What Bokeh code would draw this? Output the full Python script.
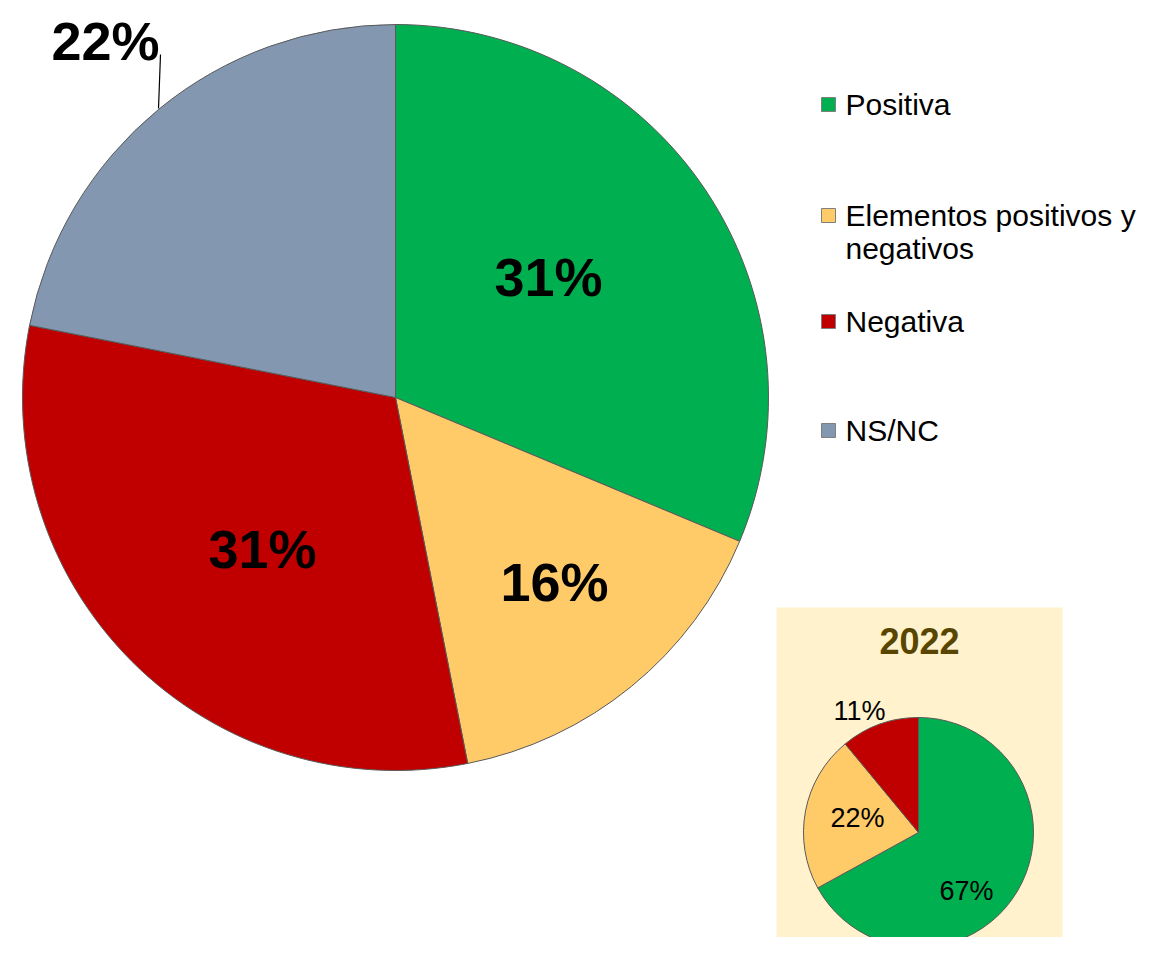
import numpy as np
from bokeh.plotting import figure
from bokeh.models import Range1d, ColumnDataSource
from bokeh.core.properties import value
from bokeh.embed import file_html
from bokeh.resources import INLINE

# ---- data ----
categories = ["Positiva", "Elementos positivos y negativos", "Negativa", "NS/NC"]
legend_lines = [["Positiva"], ["Elementos positivos y", "negativos"], ["Negativa"], ["NS/NC"]]
main_values = [31.3, 15.6, 31.2, 21.9]
main_labels = ["31%", "16%", "31%", "22%"]
colors = ["#00B050", "#FFCB69", "#C00000", "#8497B0"]

inset_title = "2022"
inset_categories = ["Positiva", "Elementos positivos y negativos", "Negativa"]
inset_values = [67.0, 22.0, 11.0]
inset_labels = ["67%", "22%", "11%"]
inset_colors = ["#00B050", "#FFCB69", "#C00000"]

H = 953  # reference height, used to flip y
FONT = "Liberation Sans"


def Y(y):
    return H - y


W_FIG, H_FIG = 1142, 937
p = figure(width=W_FIG, height=H_FIG, output_backend="svg", toolbar_location=None,
           x_range=Range1d(0, W_FIG), y_range=Range1d(H - H_FIG, H), min_border=0)
p.axis.visible = False
p.grid.visible = False
p.outline_line_color = None
p.background_fill_color = "white"


def wedge_source(vals, cols):
    v = np.array(vals, dtype=float)
    frac = v / v.sum()
    cum = np.concatenate([[0], np.cumsum(frac)])
    start = np.pi / 2 - 2 * np.pi * cum[:-1]
    end = np.pi / 2 - 2 * np.pi * cum[1:]
    return ColumnDataSource(dict(start=start, end=end, color=cols))


# ---- main pie ----
src = wedge_source(main_values, colors)
p.wedge(x=395, y=Y(397), radius=373, start_angle="start", end_angle="end",
        direction="clock", fill_color="color", line_color="#595959", line_width=1,
        source=src)

# labels of main pie
main_label_pos = [(548, 276), (554, 581), (262, 548), (105, 40)]
p.text(x=[q[0] for q in main_label_pos], y=[Y(q[1]) for q in main_label_pos],
       text=main_labels, text_font=value(FONT), text_font_style="bold",
       text_font_size="54px", text_align="center", text_baseline="middle",
       text_color="black")
# leader line for 22%
p.line(x=[160, 158], y=[Y(54), Y(108)], line_color="black", line_width=1.2)

# ---- legend ----
legend_y = [104, 215, 321, 430]
p.rect(x=[828] * 4, y=[Y(v) for v in legend_y], width=14, height=14,
       fill_color=colors, line_color="#7F7F7F", line_width=1)
lx, ly, lt = [], [], []
for lines, yy in zip(legend_lines, legend_y):
    for i, t in enumerate(lines):
        lx.append(845)
        ly.append(Y(yy + i * 33))
        lt.append(t)
p.text(x=lx, y=ly, text=lt, text_font=value(FONT), text_font_size="30px",
       text_align="left", text_baseline="middle", text_color="black")

# ---- inset ----
p.quad(left=776, right=1062, top=Y(607), bottom=Y(953) - 10,
       fill_color="#FFF2CC", line_color=None)
p.text(x=[919], y=[Y(640)], text=[inset_title], text_font=value(FONT),
       text_font_style="bold", text_font_size="36px", text_align="center",
       text_baseline="middle", text_color="#574500")

isrc = wedge_source(inset_values, inset_colors)
p.wedge(x=918, y=Y(832), radius=115, start_angle="start", end_angle="end",
        direction="clock", fill_color="color", line_color="#595959", line_width=1,
        source=isrc)
inset_label_pos = [(966, 890), (857, 817), (859, 710)]
p.text(x=[q[0] for q in inset_label_pos], y=[Y(q[1]) for q in inset_label_pos],
       text=inset_labels, text_font=value(FONT), text_font_size="27px",
       text_align="center", text_baseline="middle", text_color="black")

open("out.html", "w").write(file_html(p, INLINE))
